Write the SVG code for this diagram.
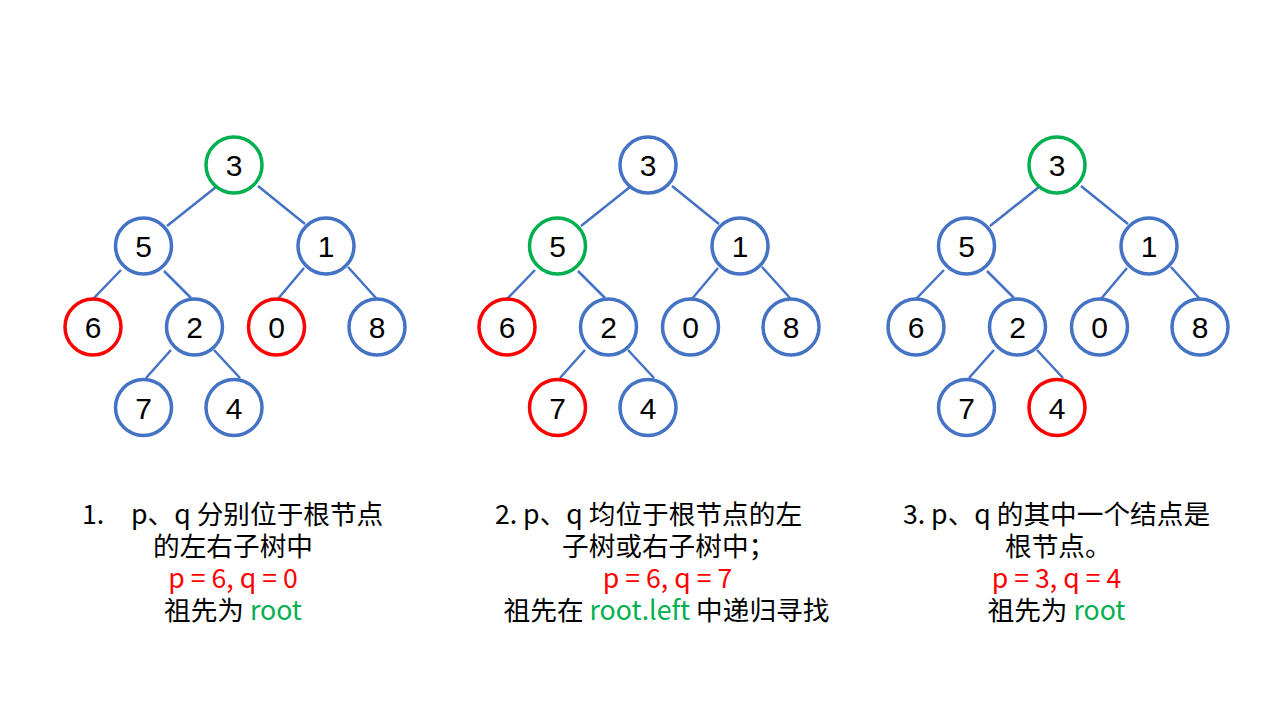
<svg xmlns="http://www.w3.org/2000/svg" width="1280" height="720" viewBox="0 0 1280 720">
<defs>
<style>
.n{fill:#fff;stroke:#4472C4;stroke-width:3.5}
.g{stroke:#00B050}
.r{stroke:#FF0000}
.e{stroke:#4472C4;stroke-width:2.5;fill:none}
.d{font-family:"Liberation Sans","Noto Sans",sans-serif;font-size:30px;fill:#000;text-anchor:middle}
.t{font-family:"Noto Sans CJK SC","Noto Sans",sans-serif;font-size:26.67px;fill:#000}
.m{text-anchor:middle}
.red{fill:#FF0000}
.grn{fill:#00B050}
</style>
</defs>
<rect width="1280" height="720" fill="#fff"/>

<g id="connectors">
<g transform="translate(0,0)">
<path class="e" d="M216,187L167,226M258,186L305,224M121,270L92,300M164,271L191,298M304,268L277,300M348,267L376,298M171,350L146,378M214,350L240,378"/>
</g>
<g transform="translate(414,0)">
<path class="e" d="M216,187L167,226M258,186L305,224M121,270L92,300M164,271L191,298M304,268L277,300M348,267L376,298M171,350L146,378M214,350L240,378"/>
</g>
<g transform="translate(823,0)">
<path class="e" d="M216,187L167,226M258,186L305,224M121,270L92,300M164,271L191,298M304,268L277,300M348,267L376,298M171,350L146,378M214,350L240,378"/>
</g>
</g>

<g id="tree1">
<g id="t1n3"><circle class="n g" cx="234" cy="165" r="28"/><text class="d" x="234" y="176">3</text></g>
<g id="t1n5"><circle class="n" cx="143.5" cy="246" r="28"/><text class="d" x="143.5" y="257">5</text></g>
<g id="t1n1"><circle class="n" cx="326" cy="246" r="28"/><text class="d" x="326" y="257">1</text></g>
<g id="t1n6"><circle class="n r" cx="93" cy="327" r="28"/><text class="d" x="93" y="338">6</text></g>
<g id="t1n2"><circle class="n" cx="194.5" cy="327" r="28"/><text class="d" x="194.5" y="338">2</text></g>
<g id="t1n0"><circle class="n r" cx="276.5" cy="327" r="28"/><text class="d" x="276.5" y="338">0</text></g>
<g id="t1n8"><circle class="n" cx="377" cy="327" r="28"/><text class="d" x="377" y="338">8</text></g>
<g id="t1n7"><circle class="n" cx="143.5" cy="407.5" r="28"/><text class="d" x="143.5" y="418.5">7</text></g>
<g id="t1n4"><circle class="n" cx="234" cy="407.5" r="28"/><text class="d" x="234" y="418.5">4</text></g>
</g>

<g id="tree2" transform="translate(414,0)">
<g id="t2n3"><circle class="n" cx="234" cy="165" r="28"/><text class="d" x="234" y="176">3</text></g>
<g id="t2n5"><circle class="n g" cx="143.5" cy="246" r="28"/><text class="d" x="143.5" y="257">5</text></g>
<g id="t2n1"><circle class="n" cx="326" cy="246" r="28"/><text class="d" x="326" y="257">1</text></g>
<g id="t2n6"><circle class="n r" cx="93" cy="327" r="28"/><text class="d" x="93" y="338">6</text></g>
<g id="t2n2"><circle class="n" cx="194.5" cy="327" r="28"/><text class="d" x="194.5" y="338">2</text></g>
<g id="t2n0"><circle class="n" cx="276.5" cy="327" r="28"/><text class="d" x="276.5" y="338">0</text></g>
<g id="t2n8"><circle class="n" cx="377" cy="327" r="28"/><text class="d" x="377" y="338">8</text></g>
<g id="t2n7"><circle class="n r" cx="143.5" cy="407.5" r="28"/><text class="d" x="143.5" y="418.5">7</text></g>
<g id="t2n4"><circle class="n" cx="234" cy="407.5" r="28"/><text class="d" x="234" y="418.5">4</text></g>
</g>

<g id="tree3" transform="translate(823,0)">
<g id="t3n3"><circle class="n g" cx="234" cy="165" r="28"/><text class="d" x="234" y="176">3</text></g>
<g id="t3n5"><circle class="n" cx="143.5" cy="246" r="28"/><text class="d" x="143.5" y="257">5</text></g>
<g id="t3n1"><circle class="n" cx="326" cy="246" r="28"/><text class="d" x="326" y="257">1</text></g>
<g id="t3n6"><circle class="n" cx="93" cy="327" r="28"/><text class="d" x="93" y="338">6</text></g>
<g id="t3n2"><circle class="n" cx="194.5" cy="327" r="28"/><text class="d" x="194.5" y="338">2</text></g>
<g id="t3n0"><circle class="n" cx="276.5" cy="327" r="28"/><text class="d" x="276.5" y="338">0</text></g>
<g id="t3n8"><circle class="n" cx="377" cy="327" r="28"/><text class="d" x="377" y="338">8</text></g>
<g id="t3n7"><circle class="n" cx="143.5" cy="407.5" r="28"/><text class="d" x="143.5" y="418.5">7</text></g>
<g id="t3n4"><circle class="n r" cx="234" cy="407.5" r="28"/><text class="d" x="234" y="418.5">4</text></g>
</g>

<g id="caption1">
<text class="t" x="82" y="524">1.</text>
<text class="t" x="131" y="524">p、q 分别位于根节点</text>
<text class="t m" x="233" y="556">的左右子树中</text>
<text class="t m red" x="233" y="588">p = 6, q = 0</text>
<text class="t m" x="233" y="620">祖先为 <tspan class="grn">root</tspan></text>
</g>

<g id="caption2">
<text class="t m" x="648.5" y="524">2. p、q 均位于根节点的左</text>
<text class="t" x="562" y="556">子树或右子树中；</text>
<text class="t m red" x="667.5" y="588">p = 6, q = 7</text>
<text class="t m" x="666.5" y="620">祖先在 <tspan class="grn">root.left</tspan> 中递归寻找</text>
</g>

<g id="caption3">
<text class="t m" x="1056.5" y="524">3. p、q 的其中一个结点是</text>
<text class="t" x="1005" y="556">根节点。</text>
<text class="t m red" x="1056.5" y="588">p = 3, q = 4</text>
<text class="t m" x="1056.5" y="620">祖先为 <tspan class="grn">root</tspan></text>
</g>
</svg>
